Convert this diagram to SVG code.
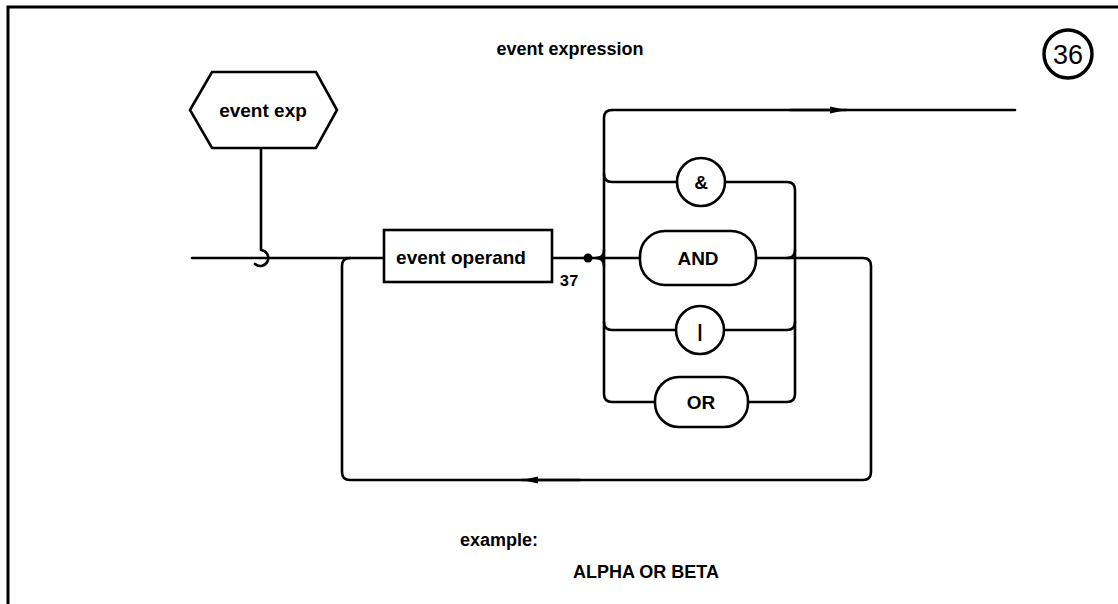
<svg xmlns="http://www.w3.org/2000/svg" width="1118" height="604" viewBox="0 0 1118 604">
<style>
.ln{fill:none;stroke:#000;stroke-width:2.6;stroke-linejoin:round;stroke-linecap:round}
.shp{fill:#fff;stroke:#000;stroke-width:2.6}
.t{font-family:"Liberation Sans",Arial,sans-serif;font-weight:bold;font-size:19px;fill:#000;text-anchor:middle}
.ts{font-family:"Liberation Sans",Arial,sans-serif;font-weight:bold;font-size:18px;fill:#000}
.frame{fill:none;stroke:#000;stroke-width:3}
</style>
<defs>
<marker id="ah" markerUnits="userSpaceOnUse" markerWidth="18" markerHeight="10" refX="16" refY="5" orient="auto">
<path d="M0,1.5 L16,5 L0,8.5 Z" fill="#000"/>
</marker>
</defs>
<rect width="1118" height="604" fill="#fff"/>
<path class="frame" d="M8,604 V7 H1118"/>
<text class="ts" x="570" y="55" text-anchor="middle">event expression</text>
<g id="page-number">
<circle cx="1068" cy="54" r="24" fill="none" stroke="#000" stroke-width="3.5"/>
<text x="1068" y="64" font-family="Liberation Sans,Arial,sans-serif" font-size="27" text-anchor="middle">36</text>
</g>
<g id="connectors">
<path class="ln" d="M261,148 V250 A8,8 0 1 1 255,264"/>
<path class="ln" d="M192,258 H384"/>
<path class="ln" d="M552,258 H640"/>
<path class="ln" d="M612,110 Q604,110 604,118 V394 Q604,402 612,402 H655"/>
<path class="ln" d="M612,110 H1015"/>
<path class="ln" d="M790,110 H846" marker-end="url(#ah)"/>
<path class="ln" d="M604,174 Q604,182 612,182 H677"/>
<path class="ln" d="M596,258 Q604,258 604,250 M596,258 Q604,258 604,266"/>
<path class="ln" d="M604,322 Q604,330 612,330 H676"/>
<path class="ln" d="M725,182 H787 Q795,182 795,190 V394 Q795,402 787,402 H748"/>
<path class="ln" d="M724,330 H787 Q795,330 795,322"/>
<path class="ln" d="M756,258 H863 Q871,258 871,266 V472 Q871,480 863,480 H350 Q342,480 342,472 V266 Q342,258 350,258"/>
<path class="ln" d="M787,258 Q795,258 795,250"/>
<path class="ln" d="M580,480 H522" marker-end="url(#ah)"/>
<circle cx="588" cy="258" r="4.5" fill="#000"/>
</g>
<g id="event-exp">
<polygon class="shp" points="190,110 212,72 316,72 337,110 316,148 212,148"/>
<text class="t" x="263" y="117" font-size="20">event exp</text>
</g>
<g id="event-operand">
<rect class="shp" x="384" y="230" width="168" height="52"/>
<text class="t" x="461" y="264">event operand</text>
<text x="569" y="286" font-family="Liberation Mono,monospace" font-weight="bold" font-size="16" text-anchor="middle">37</text>
</g>
<g id="op-amp">
<circle class="shp" cx="701" cy="182" r="24"/>
<text class="t" x="701" y="189">&amp;</text>
</g>
<g id="op-and">
<rect class="shp" x="640" y="231" width="116" height="54" rx="25"/>
<text class="t" x="698" y="265">AND</text>
</g>
<g id="op-bar">
<circle class="shp" cx="700" cy="330" r="24"/>
<text class="t" x="700" y="337" font-weight="normal">|</text>
</g>
<g id="op-or">
<rect class="shp" x="655" y="377" width="93" height="50" rx="24"/>
<text class="t" x="701" y="409">OR</text>
</g>
<text class="ts" x="460" y="546">example:</text>
<text class="ts" x="573" y="578">ALPHA OR BETA</text>
</svg>
